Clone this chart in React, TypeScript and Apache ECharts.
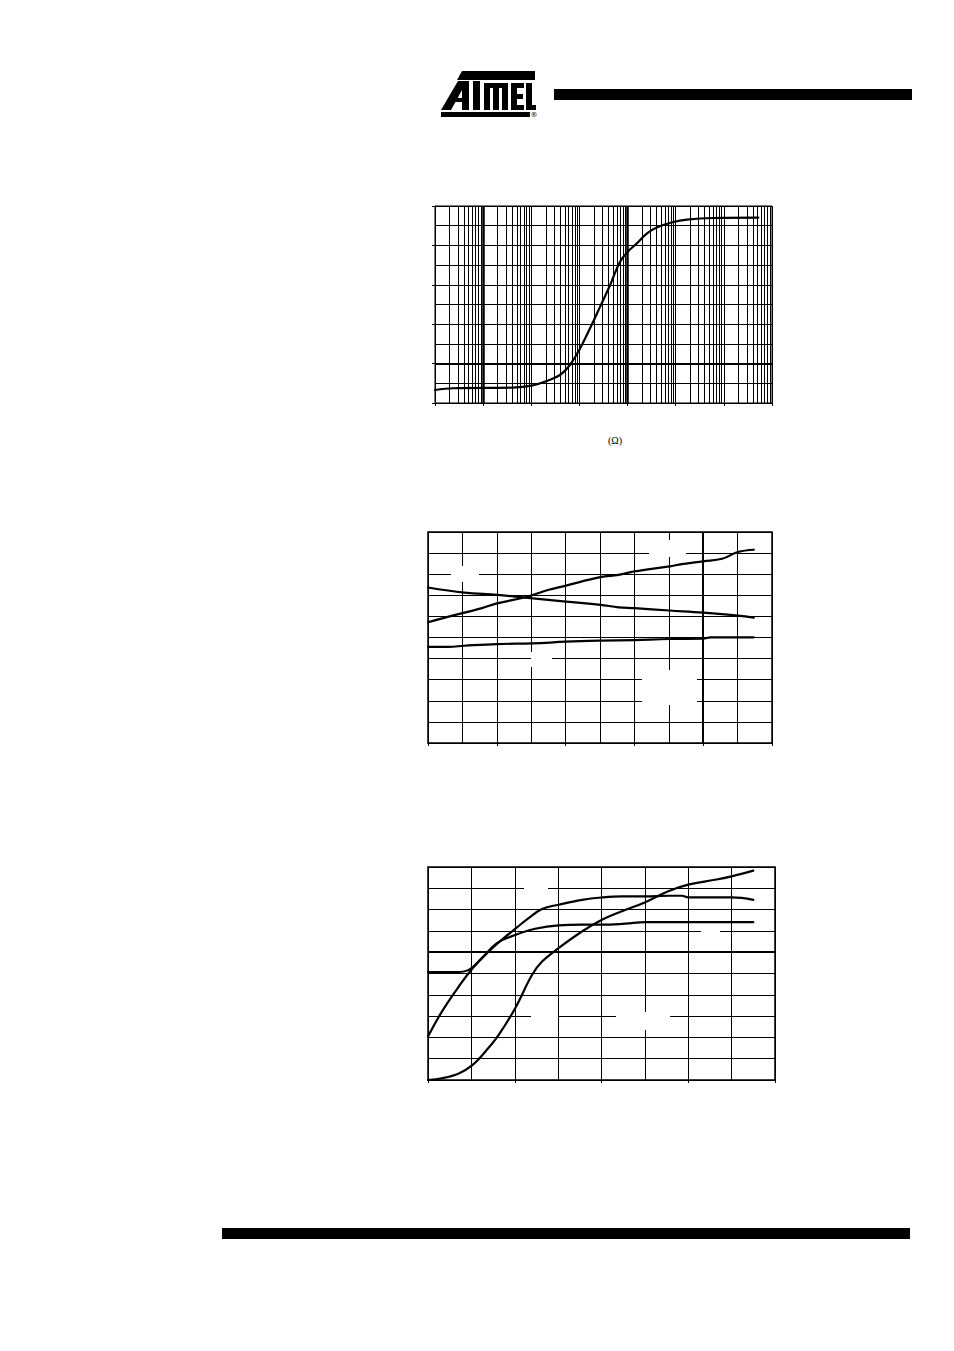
import React, { useEffect, useRef } from "react";
import * as echarts from "echarts";

// Chart 1 (log x axis)
const c1X = [1, 2.4, 42, 102, 209, 395, 635, 1030, 1660, 2680, 4320, 6940, 10000, 15400, 25000, 40300, 89000, 170000, 603000, 5200000];
const c1Y = [6.6, 7.5, 7.8, 8.8, 11.2, 14.2, 19.3, 27.7, 37.9, 48.8, 59.8, 71.6, 76.7, 80.9, 86.0, 89.1, 91.9, 93.1, 93.9, 94.1];

// Chart 2
const c2aX = [0, 0.6, 1.57, 2.01, 2.83, 3.51, 4.01, 5.01, 5.54, 6.0, 7.02, 7.38, 8.0, 8.55, 9.01, 9.47];
const c2aY = [57.2, 59.9, 63.9, 66.2, 69.1, 72.6, 74.6, 78.6, 79.7, 81.3, 83.7, 84.8, 86.1, 87.3, 90.5, 91.6];
const c2bX = [0, 1.06, 2.01, 2.83, 4.01, 5.01, 5.54, 6.0, 7.02, 8.0, 9.01, 9.47];
const c2bY = [73.7, 71.3, 70.2, 68.9, 67.0, 65.5, 64.3, 63.9, 62.8, 61.8, 60.4, 59.4];
const c2cX = [0, 0.6, 1.06, 2.01, 3.04, 4.01, 5.01, 6.0, 7.02, 8.0, 8.21, 9.01, 9.47];
const c2cY = [45.6, 45.6, 46.1, 46.9, 47.2, 48.0, 48.5, 48.8, 49.3, 49.4, 50.1, 50.1, 50.1];

// Chart 3
const c3aX = [0, 0.32, 0.71, 1.03, 1.32, 1.63, 2.01, 2.4, 2.63, 3.01, 3.55, 4.01, 4.47, 5.01, 5.54, 6.0, 6.62, 7.0, 7.5];
const c3aY = [0, 0.8, 3.1, 7.1, 13.3, 21.2, 33.7, 49.4, 55.6, 61.9, 69.7, 75.2, 79.2, 83.5, 88.6, 91.7, 94.0, 95.6, 98.3];
const c3bX = [0, 0.32, 0.71, 1.03, 1.4, 1.7, 2.03, 2.32, 2.63, 3.01, 3.55, 4.01, 4.47, 5.01, 5.54, 5.85, 6.0, 6.62, 7.0, 7.5];
const c3bY = [20.4, 32.1, 43.9, 52.5, 60.3, 65.8, 71.3, 76.0, 80.3, 82.3, 84.6, 85.7, 86.2, 86.2, 86.5, 86.5, 85.7, 85.7, 85.7, 84.6];
const c3cX = [0, 0.63, 0.94, 1.24, 1.59, 2.03, 2.47, 3.01, 3.55, 4.01, 4.55, 5.01, 7.5];
const c3cY = [50.6, 50.6, 51.7, 57.2, 64.3, 68.2, 71.0, 72.6, 72.9, 72.9, 73.4, 74.1, 74.1];

// log-axis grid values
const logDecades = [1, 10, 100, 1000, 10000, 100000, 1000000];
const logSteps = [2, 3, 4, 5, 6, 7, 8, 9];

const pairs = (xs: number[], ys: number[]) => xs.map((x, i) => [x, ys[i]]);

export default function App() {
  const ref = useRef<HTMLDivElement>(null);
  useEffect(() => {
    const chart = echarts.init(ref.current!, null, { renderer: "svg" });
    const black = "#000";
    const lineSeries = (xi: number, data: number[][], extra: any = {}) => ({
      type: "line",
      xAxisIndex: xi,
      yAxisIndex: xi,
      data,
      showSymbol: false,
      symbol: "none",
      smooth: 0.4,
      lineStyle: { color: black, width: 2.2, cap: "round", join: "round" },
      silent: true,
      z: 5,
      ...extra,
    });
    const ml = (data: any[]) => ({
      markLine: {
        silent: true,
        symbol: ["none", "none"],
        label: { show: false },
        z: 2,
        lineStyle: { color: black, width: 1, type: "solid" },
        data,
      },
    });
    const minorLog: any[] = [];
    logDecades.forEach((d) => logSteps.forEach((k) => minorLog.push({ xAxis: k * d })));

    const valAxis = (gi: number, min: number, max: number, interval: number, pos: string) => ({
      type: "value",
      gridIndex: gi,
      min,
      max,
      interval,
      position: pos,
      axisLabel: { show: false },
      axisLine: { show: true, lineStyle: { color: black, width: 1 } },
      axisTick: { show: true, length: 3, lineStyle: { color: black, width: 1 } },
      splitLine: { show: true, lineStyle: { color: black, width: 1 } },
      minorTick: { show: false, splitNumber: 2 },
      minorSplitLine: { show: true, lineStyle: { color: black, width: 1 } },
    });

    const mask = (x: number, y: number, w: number, h: number) => ({
      type: "rect",
      z: 100,
      shape: { x, y, width: w, height: h },
      style: { fill: "#fff" },
    });
    const blk = (x: number, y: number, w: number, h: number) => ({
      type: "rect",
      z: 100,
      shape: { x, y, width: w, height: h },
      style: { fill: black },
    });

    const option: any = {
      animation: false,
      backgroundColor: "#fff",
      grid: [
        { left: 435, top: 206, width: 337, height: 197, show: true, borderColor: black, borderWidth: 1 },
        { left: 428, top: 532, width: 344, height: 211, show: true, borderColor: black, borderWidth: 1.5 },
        { left: 428, top: 867, width: 347, height: 213, show: true, borderColor: black, borderWidth: 1.5 },
      ],
      xAxis: [
        {
          type: "log",
          logBase: 10,
          gridIndex: 0,
          min: 1,
          max: 10000000,
          splitNumber: 7,
          axisLabel: { show: false },
          axisLine: { show: true, lineStyle: { color: black, width: 1 } },
          axisTick: { show: true, length: 3, lineStyle: { color: black, width: 1 } },
          splitLine: { show: true, lineStyle: { color: black, width: 1 } },
        },
        valAxis(1, 0, 10, 2, "bottom"),
        valAxis(2, 0, 8, 2, "bottom"),
      ],
      yAxis: [
        valAxis(0, 0, 100, 20, "left"),
        valAxis(1, 0, 100, 20, "right"),
        valAxis(2, 0, 100, 20, "right"),
      ],
      series: [
        lineSeries(0, pairs(c1X, c1Y), ml([...minorLog, { xAxis: 10, lineStyle: { width: 2.5 } }, { xAxis: 10000, lineStyle: { width: 2.5 } }, { yAxis: 20, lineStyle: { width: 2 } }])),
        lineSeries(1, pairs(c2aX, c2aY), ml([{ xAxis: 8, lineStyle: { width: 2 } }])),
        lineSeries(1, pairs(c2bX, c2bY)),
        lineSeries(1, pairs(c2cX, c2cY)),
        lineSeries(2, pairs(c3aX, c3aY), ml([{ yAxis: 60, lineStyle: { width: 2 } }])),
        lineSeries(2, pairs(c3bX, c3bY)),
        lineSeries(2, pairs(c3cX, c3cY)),
      ],
      graphic: [
        // header bar
        blk(554, 89, 358, 11),
        // footer bar
        blk(222, 1228, 688, 11),
        // logo
        { type: "polygon", z: 100, shape: { points: [[462, 71], [535, 71], [535, 80], [457, 80]] }, style: { fill: black } },
        { type: "polygon", z: 100, shape: { points: [[441, 110], [451, 110], [467, 81], [458, 81]] }, style: { fill: black } },
        blk(462, 81, 7, 29),
        blk(450, 98, 13, 4),
        blk(473, 81, 7, 29),
        blk(484, 83, 24, 5),
        blk(484, 83, 6, 27),
        blk(493, 83, 6, 27),
        blk(502, 83, 6, 27),
        blk(511, 83, 6, 27),
        blk(511, 83, 13, 5),
        blk(511, 94, 12, 5),
        blk(511, 105, 13, 5),
        blk(526, 83, 6, 27),
        blk(526, 105, 10, 5),
        blk(441, 112, 89, 5),
        { type: "text", z: 100, x: 534, y: 115, style: { text: "®", fontSize: 7, fontFamily: "DejaVu Sans", fill: black, align: "center", verticalAlign: "middle" } },
        // axis unit text
        { type: "text", z: 100, x: 615, y: 440, style: { text: "(Ω)", fontSize: 10, fontFamily: "Liberation Serif", fill: black, align: "center", verticalAlign: "middle" } },
        // label masks chart 2
        mask(451, 566, 28, 16),
        mask(649, 540, 37, 17),
        mask(531, 652, 21, 15),
        mask(642, 670, 55, 35),
        // label masks chart 3
        mask(524, 883, 24, 10),
        mask(701, 925, 19, 8),
        mask(531, 1002, 27, 16),
        mask(616, 1012, 54, 18),
      ],
    };
    chart.setOption(option);
    return () => chart.dispose();
  }, []);
  return (
    <div
      ref={ref}
      style={{ position: "absolute", left: 0, top: 0, width: 954, height: 1351, background: "#fff" }}
    />
  );
}
